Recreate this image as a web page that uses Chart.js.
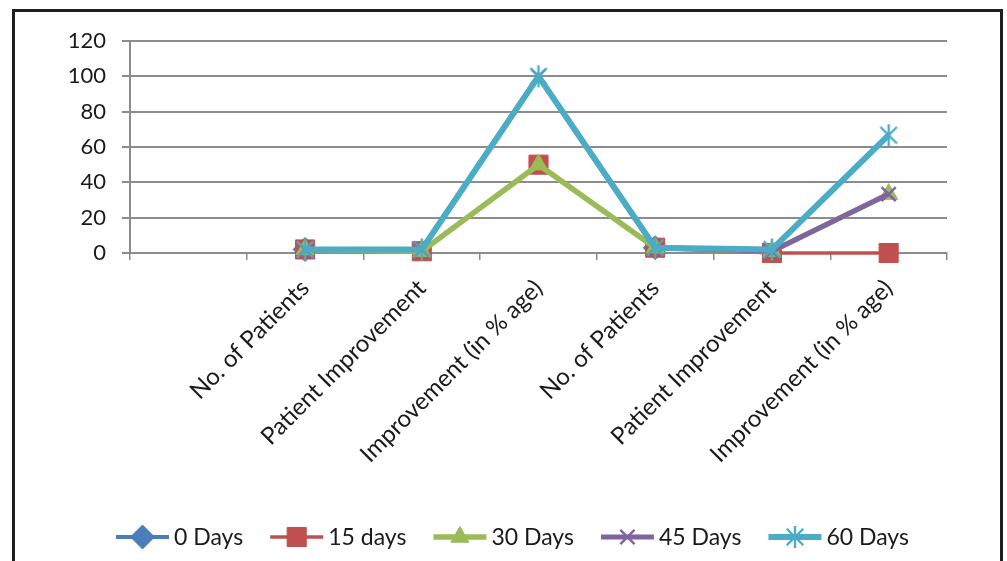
<!DOCTYPE html>
<html>
<head>
<meta charset="utf-8">
<script src="https://cdn.jsdelivr.net/npm/chart.js@4/dist/chart.umd.min.js"></script>
<style>
  html, body { margin: 0; padding: 0; background: #ffffff; }
  #wrap { position: relative; width: 1007px; height: 561px; }
</style>
</head>
<body>
<div id="wrap"><canvas id="c" width="1007" height="561"></canvas></div>
<script>
// Category labels (the first slot is left blank on purpose)
const categories = ["", "No. of Patients", "Patient Improvement", "Improvement (in % age)",
                    "No. of Patients", "Patient Improvement", "Improvement (in % age)"];

// Series values per follow-up interval (baseline has only the patient counts)
const days0  = [null, 2, null, null, 3, null, null];
const days15 = [null, 2, 1, 50, 3, 0, 0];
const days30 = [null, 2, 1, 50, 3, 1, 33.33];
const days45 = [null, 2, 2, 100, 3, 1, 33.33];
const days60 = [null, 2, 2, 100, 3, 2, 66.67];

const seriesNames = ["0 Days", "15 days", "30 Days", "45 Days", "60 Days"];
const yTicks = [0, 20, 40, 60, 80, 100, 120];

const FONT = "Lato, 'Open Sans', sans-serif";

// Asterisk-style marker: an X with a vertical stroke
function starMarker(color, size, lw) {
  const cv = document.createElement('canvas');
  cv.width = size; cv.height = size;
  const g = cv.getContext('2d');
  const m = size / 2, a = size / 2 - 2;
  g.strokeStyle = color; g.lineWidth = lw; g.lineCap = 'butt';
  g.beginPath();
  g.moveTo(m, m - a); g.lineTo(m, m + a);
  const d = a * 0.75;
  g.moveTo(m - d, m - d); g.lineTo(m + d, m + d);
  g.moveTo(m + d, m - d); g.lineTo(m - d, m + d);
  g.stroke();
  return cv;
}

const colors = ['#4a7ebb', '#c0504d', '#9bbb59', '#8064a2', '#4bacc6'];
const starImg = starMarker(colors[4], 26, 2.4);

const styles = [
  { pointStyle: 'rectRot',  radius: 12,   lineWidth: 4,   pbw: 1 },
  { pointStyle: 'rect',     radius: 13.5, lineWidth: 3.5, pbw: 1 },
  { pointStyle: 'triangle', radius: 10.5, lineWidth: 5.5, pbw: 1 },
  { pointStyle: 'crossRot', radius: 10,   lineWidth: 5,   pbw: 2.4 },
  { pointStyle: starImg,    radius: 13,   lineWidth: 6,   pbw: 1 }
];

const values = [days0, days15, days30, days45, days60];

const datasets = values.map((v, i) => ({
  label: seriesNames[i],
  data: v,
  borderColor: colors[i],
  backgroundColor: colors[i],
  borderWidth: styles[i].lineWidth,
  pointStyle: styles[i].pointStyle,
  pointRadius: styles[i].radius,
  pointHoverRadius: styles[i].radius,
  pointBorderWidth: styles[i].pbw,
  pointBorderColor: colors[i],
  pointBackgroundColor: colors[i],
  tension: 0,
  spanGaps: false,
  clip: false,
  order: 5 - i
}));

// Frame around the whole figure
const framePlugin = {
  id: 'frame',
  beforeDraw(chart) {
    const ctx = chart.ctx;
    ctx.save();
    ctx.fillStyle = '#ffffff';
    ctx.fillRect(0, 0, chart.width, chart.height);
    ctx.strokeStyle = '#1e1e1e';
    ctx.lineWidth = 3;
    ctx.strokeRect(13.5, 10.5, 988, 620);
    ctx.restore();
  }
};

// Legend with a line segment and marker for each series
const lineLegend = {
  id: 'lineLegend',
  afterDraw(chart) {
    const ctx = chart.ctx;
    ctx.save();
    ctx.font = '23px ' + FONT;
    ctx.textBaseline = 'middle';
    const segLen = 53, gapText = 5, gapItem = 27;
    const widths = seriesNames.map(n => segLen + gapText + ctx.measureText(n).width);
    const total = widths.reduce((a, b) => a + b, 0) + gapItem * (widths.length - 1);
    let x = (114 + 911) / 2 - total / 2;
    const y = 537;
    chart.data.datasets.forEach((ds, i) => {
      ctx.strokeStyle = ds.borderColor;
      ctx.lineWidth = ds.borderWidth;
      ctx.beginPath();
      ctx.moveTo(x, y); ctx.lineTo(x + segLen, y);
      ctx.stroke();
      ctx.fillStyle = ds.backgroundColor;
      ctx.strokeStyle = ds.borderColor;
      ctx.lineWidth = ds.pointBorderWidth;
      Chart.helpers.drawPoint(ctx, {
        pointStyle: ds.pointStyle,
        rotation: 0,
        radius: ds.pointRadius,
        borderWidth: ds.pointBorderWidth
      }, x + segLen / 2, y);
      ctx.fillStyle = '#1a1a1a';
      ctx.textAlign = 'left';
      ctx.fillText(ds.label, x + segLen + gapText, y + 1);
      x += widths[i] + gapItem;
    });
    ctx.restore();
  }
};

new Chart(document.getElementById('c'), {
  type: 'line',
  data: { labels: categories, datasets },
  plugins: [framePlugin, lineLegend],
  options: {
    responsive: false,
    animation: false,
    layout: { padding: { left: 0, right: 60, top: 41, bottom: 0 } },
    plugins: {
      legend: { display: false },
      tooltip: { enabled: false }
    },
    scales: {
      x: {
        type: 'category',
        offset: true,
        grid: {
          offset: true,
          drawOnChartArea: false,
          drawTicks: true,
          tickLength: 7,
          color: '#8c8c8c',
          lineWidth: 1.5
        },
        border: { display: true, color: '#8c8c8c', width: 2 },
        ticks: {
          autoSkip: false,
          maxRotation: 45,
          minRotation: 45,
          padding: 14,
          color: '#1a1a1a',
          font: { family: FONT, size: 24 }
        },
        afterFit(scale) { scale.height = 561 - 253; }
      },
      y: {
        min: 0,
        max: 120,
        afterBuildTicks(scale) { scale.ticks = yTicks.map(v => ({ value: v })); },
        grid: {
          color: '#8c8c8c',
          lineWidth: 2,
          tickLength: 8
        },
        border: { display: true, color: '#8c8c8c', width: 2 },
        ticks: {
          padding: 16,
          color: '#1a1a1a',
          font: { family: FONT, size: 22 }
        },
        afterFit(scale) { scale.width = 130; }
      }
    }
  }
});
</script>
</body>
</html>
